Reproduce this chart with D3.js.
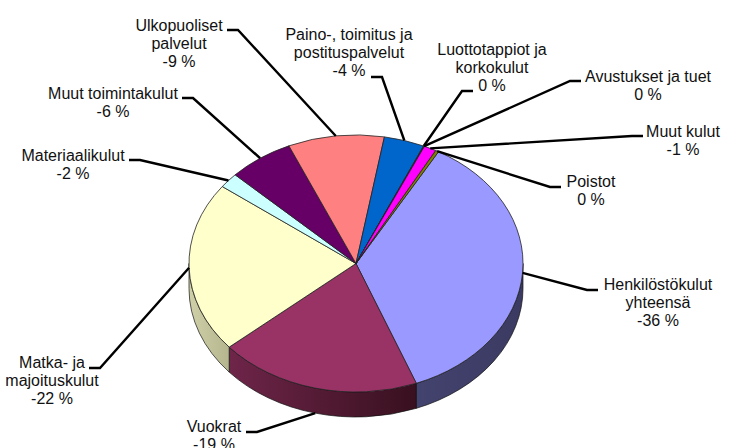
<!DOCTYPE html>
<html>
<head>
<meta charset="utf-8">
<script src="https://cdn.jsdelivr.net/npm/d3@7"></script>
<style>
  html, body { margin: 0; padding: 0; background: #fff; overflow: hidden; }
  text { font-family: "Liberation Sans", Arial, sans-serif; font-size: 16px; fill: #111; }
</style>
</head>
<body>
<div id="my_dataviz"></div>
<script>
// chart values, clockwise from the Henkilostokulut slice
var categories = [
  ["Henkilöstökulut", "yhteensä"],
  ["Vuokrat"],
  ["Matka- ja", "majoituskulut"],
  ["Materiaalikulut"],
  ["Muut toimintakulut"],
  ["Ulkopuoliset", "palvelut"],
  ["Paino-, toimitus ja", "postituspalvelut"],
  ["Luottotappiot ja", "korkokulut"],
  ["Avustukset ja tuet"],
  ["Muut kulut"],
  ["Poistot"]
];
var shares = [35.9, 19.6, 21.5, 1.9, 6.3, 9.3, 3.9, 0.05, 0.05, 1.2, 0.3];
var shownPercent = [-36, -19, -22, -2, -6, -9, -4, 0, 0, -1, 0];

// styling, same order as the data
var topColors = ["#9999ff", "#993366", "#ffffcc", "#ccffff", "#660066", "#ff8080", "#0066cc", "#ccccff", "#000080", "#ff00ff", "#808000"];
var sideLeft = ["#43436f", "#6e2549", "#d0d0a8", "#a3cccc", "#4a004a", "#b85c5c", "#004a94", "#9999bf", "#000060", "#b800b8", "#5c5c00"];
var sideRight = ["#3a3a62", "#38101f", "#b6b68e", "#8fb3b3", "#3a003a", "#a35252", "#003a80", "#8080a8", "#000050", "#a300a3", "#4a4a00"];

// label layout: bend of the leader, which side the label is on, text centre, first baseline
var labelLayout = [
  {bend: [587, 290], dir: 1,  cx: 658, y: 290},
  {bend: [257, 432], dir: -1, cx: 214, y: 432},
  {bend: [100, 368], dir: -1, cx: 52,  y: 368},
  {bend: [140, 160], dir: -1, cx: 73,  y: 161},
  {bend: [193, 98],  dir: -1, cx: 113, y: 99},
  {bend: [238, 30],  dir: -1, cx: 179, y: 31},
  {bend: [382, 77],  dir: -1, cx: 349, y: 40},
  {bend: [462, 91],  dir: 1,  cx: 492, y: 55},
  {bend: [570, 81],  dir: 1,  cx: 648, y: 82},
  {bend: [632, 136], dir: 1,  cx: 683, y: 137},
  {bend: [550, 187], dir: 1,  cx: 591, y: 187}
];

var width = 735, height = 448;
var cx = 356, cy = 263.5, rx = 167, ry = 128.5, depth = 25;
var lineGap = 18.2;

var svg = d3.select("#my_dataviz")
  .append("svg")
  .attr("width", width)
  .attr("height", height)
  .style("display", "block");

var start = 29.6 * Math.PI / 180;
var pie = d3.pie()
  .sort(null)
  .startAngle(start)
  .endAngle(start + 2 * Math.PI);
var slices = pie(shares);

function rim(a) {
  return [cx + rx * Math.sin(a), cy - ry * Math.cos(a)];
}

// gradients for the side wall
var defs = svg.append("defs");
slices.forEach(function(d, i) {
  var grad = defs.append("linearGradient").attr("id", "side" + i);
  grad.append("stop").attr("offset", 0).attr("stop-color", sideLeft[i]);
  grad.append("stop").attr("offset", 1).attr("stop-color", sideRight[i]);
});

// the wall is only visible on the front half (90deg to 270deg)
function wallPieces(d) {
  var pieces = [];
  [[d.startAngle, d.endAngle], [d.startAngle - 2 * Math.PI, d.endAngle - 2 * Math.PI]].forEach(function(r) {
    var a0 = Math.max(r[0], Math.PI / 2), a1 = Math.min(r[1], 3 * Math.PI / 2);
    if (a1 > a0) pieces.push([a0, a1]);
  });
  return pieces;
}

var wall = svg.append("g");
slices.forEach(function(d, i) {
  wallPieces(d).forEach(function(p) {
    var a = rim(p[0]), b = rim(p[1]);
    var path = "M" + a + "A" + rx + "," + ry + " 0 0 1 " + b +
      "L" + b[0] + "," + (b[1] + depth) +
      "A" + rx + "," + ry + " 0 0 0 " + a[0] + "," + (a[1] + depth) + "Z";
    wall.append("path")
      .attr("d", path)
      .attr("fill", "url(#side" + i + ")")
      .attr("stroke", "#111")
      .attr("stroke-width", 0.7);
  });
});

// top face: a circle arc squashed into the ellipse
var arc = d3.arc().innerRadius(0).outerRadius(rx);
svg.append("g")
  .attr("transform", "translate(" + cx + "," + cy + ") scale(1," + (ry / rx) + ")")
  .selectAll("path")
  .data(slices)
  .enter()
  .append("path")
    .attr("d", arc)
    .attr("fill", function(d, i) { return topColors[i]; })
    .attr("stroke", "#222")
    .attr("stroke-width", 0.8)
    .attr("vector-effect", "non-scaling-stroke");

// leaders
svg.append("g")
  .selectAll("path")
  .data(slices)
  .enter()
  .append("path")
    .attr("d", function(d, i) {
      var mid = (d.startAngle + d.endAngle) / 2;
      var p = rim(mid);
      // slices at the very front take the leader from the lower edge of the wall
      if (Math.cos(mid) < -0.8) p[1] += depth;
      var l = labelLayout[i];
      return d3.line()([p, l.bend, [l.bend[0] + l.dir * 11, l.bend[1]]]);
    })
    .attr("fill", "none")
    .attr("stroke", "#000")
    .attr("stroke-width", 2.4);

// labels
var labels = svg.append("g")
  .selectAll("text")
  .data(categories)
  .enter()
  .append("text")
    .attr("text-anchor", "middle")
    .attr("x", function(d, i) { return labelLayout[i].cx; })
    .attr("y", function(d, i) { return labelLayout[i].y; });

labels.each(function(lines, i) {
  var t = d3.select(this);
  lines.concat(shownPercent[i] + " %").forEach(function(s, k) {
    t.append("tspan")
      .attr("x", labelLayout[i].cx)
      .attr("dy", k === 0 ? 0 : lineGap)
      .text(s);
  });
});
</script>
</body>
</html>
